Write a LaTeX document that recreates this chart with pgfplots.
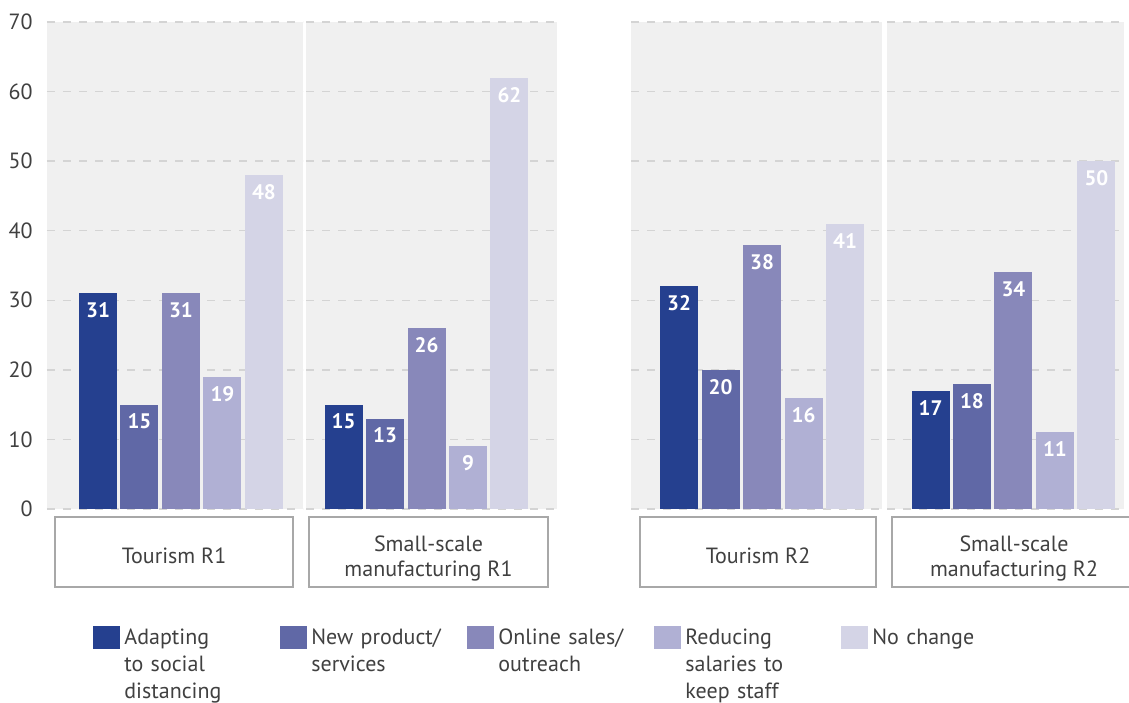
\documentclass[border=0pt]{standalone}
\usepackage{fontspec}
\setmainfont{PT Sans}
\usepackage{pgfplots}
\pgfplotsset{compat=1.18}
\definecolor{c1}{RGB}{37,64,143}
\definecolor{c2}{RGB}{96,104,166}
\definecolor{c3}{RGB}{136,136,186}
\definecolor{c4}{RGB}{176,176,212}
\definecolor{c5}{RGB}{212,212,230}
\definecolor{bgc}{RGB}{240,240,240}
\definecolor{gridc}{RGB}{212,212,212}
\definecolor{boxc}{RGB}{168,168,168}
\definecolor{txtc}{RGB}{64,64,64}
\pgfplotsset{
  panel/.style={
    scale only axis, height=243.5pt, ymin=0, ymax=70, enlargelimits=false,
    anchor=south west,
    axis background/.style={fill=bgc},
    axis line style={draw=none},
    ytick={0,10,...,70}, xtick=\empty,
    major tick length=0pt,
    ymajorgrids, grid style={gridc, line width=0.75pt, dash pattern=on 4pt off 4pt},
    ybar, bar width=19pt, bar shift=0pt,
    nodes near coords,
    every node near coord/.append style={anchor=north, inner sep=0pt, yshift=-4.5pt,
      font=\bfseries\fontsize{10.5}{12}\selectfont, text=white},
    yticklabels={},
    /pgf/number format/assume math mode=true,
    yticklabel style={font=\fontsize{11}{12}\selectfont, text=txtc, anchor=east, inner sep=0pt, xshift=-7pt},
  },
}
\begin{document}
\begin{tikzpicture}
\useasboundingbox (0pt,0pt) rectangle (564.5pt,351pt);
% Tourism R1
\begin{axis}[panel, at={(23.5pt,96.5pt)}, width=128pt, xmin=-0.229, xmax=5.940,
  yticklabels={0,10,20,30,40,50,60,70},
  legend columns=5,
  legend style={at={(rel axis cs:0.1797,-0.2403)}, anchor=north west, draw=none, fill=none, inner sep=0pt,
    nodes={inner sep=0pt, text width=75pt, align=left, font=\fontsize{11}{13.5}\selectfont, text=txtc},
    /tikz/every odd column/.append style={column sep=2pt},
    /tikz/every even column/.append style={column sep=3pt}},
  legend image code/.code={\fill[#1] (0pt,-5.75pt) rectangle (13.5pt,5.75pt);},
  ]
\addplot[fill=c1, draw=none] coordinates {(1,31)};
\addlegendentry{Adapting\\to social\\distancing}
\addplot[fill=c2, draw=none] coordinates {(2,15)};
\addlegendentry{New product/\\services}
\addplot[fill=c3, draw=none] coordinates {(3,31)};
\addlegendentry{Online sales/\\outreach}
\addplot[fill=c4, draw=none] coordinates {(4,19)};
\addlegendentry{Reducing\\salaries to\\keep staff}
\addplot[fill=c5, draw=none] coordinates {(5,48)};
\addlegendentry{No change}
\end{axis}
% Small-scale R1
\begin{axis}[panel, at={(153pt,96.5pt)}, width=125.5pt, xmin=0.096, xmax=6.145]
\addplot[fill=c1, draw=none] coordinates {(1,15)};
\addplot[fill=c2, draw=none] coordinates {(2,13)};
\addplot[fill=c3, draw=none] coordinates {(3,26)};
\addplot[fill=c4, draw=none] coordinates {(4,9)};
\addplot[fill=c5, draw=none] coordinates {(5,62)};
\end{axis}
% Tourism R2
\begin{axis}[panel, at={(315.5pt,96.5pt)}, width=125.5pt, xmin=-0.157, xmax=5.891]
\addplot[fill=c1, draw=none] coordinates {(1,32)};
\addplot[fill=c2, draw=none] coordinates {(2,20)};
\addplot[fill=c3, draw=none] coordinates {(3,38)};
\addplot[fill=c4, draw=none] coordinates {(4,16)};
\addplot[fill=c5, draw=none] coordinates {(5,41)};
\end{axis}
% Small-scale R2
\begin{axis}[panel, at={(443.5pt,96.5pt)}, width=118.5pt, xmin=-0.048, xmax=5.663]
\addplot[fill=c1, draw=none] coordinates {(1,17)};
\addplot[fill=c2, draw=none] coordinates {(2,18)};
\addplot[fill=c3, draw=none] coordinates {(3,34)};
\addplot[fill=c4, draw=none] coordinates {(4,11)};
\addplot[fill=c5, draw=none] coordinates {(5,50)};
\end{axis}
% category boxes
\begin{scope}[x=0.5pt, y=-0.5pt, yshift=351pt]
\draw[boxc, line width=1pt] (55,517) rectangle (293,587);
\draw[boxc, line width=1pt] (309,517) rectangle (548,587);
\draw[boxc, line width=1pt] (640,517) rectangle (876,587);
\draw[boxc, line width=1pt] (892,517) rectangle (1135,587);
\begin{scope}[every node/.style={text=txtc, align=center, font=\fontsize{11}{12.5}\selectfont, inner sep=0pt}]
\node at (174,556) {Tourism R1};
\node at (428.5,558) {Small-scale\\manufacturing R1};
\node at (758,556) {Tourism R2};
\node at (1014,558) {Small-scale\\manufacturing R2};
\end{scope}
\end{scope}
\end{tikzpicture}
\end{document}
